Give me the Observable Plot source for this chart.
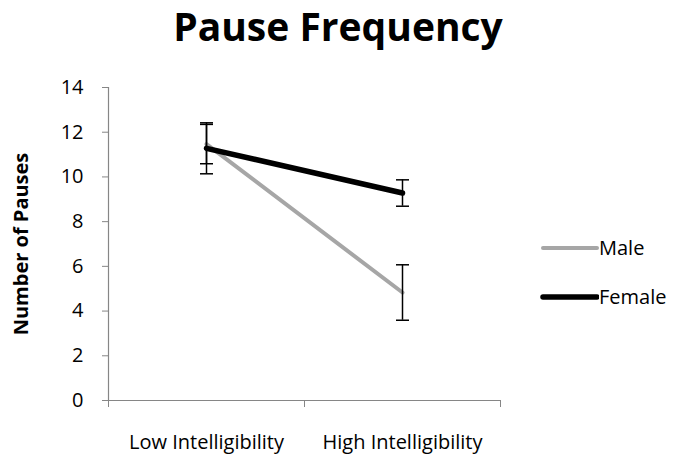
<!DOCTYPE html>
<html>
<head>
<meta charset="utf-8">
<script src="https://cdn.jsdelivr.net/npm/d3@7"></script>
<script src="https://cdn.jsdelivr.net/npm/@observablehq/plot@0.6"></script>
<style>
  html, body { margin: 0; padding: 0; background: #fff; }
  body { width: 681px; height: 459px; position: relative; overflow: hidden; font-family: "Open Sans", sans-serif; }
  #title { height: 60px; position: relative; width: 681px; font-weight: bold; font-size: 39px; }
  #title span { position: absolute; left: 338px; transform: translateX(-50%); top: 3px; white-space: nowrap; line-height: 1.2; }
  #chart { position: absolute; left: 0; top: 60px; }
  #legend { position: absolute; left: 540px; top: 234px; font-size: 20px; }
  .item { display: flex; align-items: center; height: 27px; margin-bottom: 22px; }
  .item svg { display: block; }
</style>
</head>
<body>
<div id="title"><span>Pause Frequency</span></div>
<div id="chart"></div>
<div id="legend"></div>
<script>
const categories = ["Low Intelligibility", "High Intelligibility"];
const seriesNames = ["Male", "Female"];
const maleMeans = [11.47, 4.83];
const maleErrors = [0.88, 1.24];
const femaleMeans = [11.28, 9.28];
const femaleErrors = [1.14, 0.59];
const yTicks = [0, 2, 4, 6, 8, 10, 12, 14];
const yLabel = "Number of Pauses";

const colors = {Male: "#A6A6A6", Female: "#000000"};
const widths = {Male: 4, Female: 5.5};

const rows = [];
categories.forEach((c, i) => {
  rows.push({series: "Male", cat: c, pos: i + 0.5, mean: maleMeans[i], err: maleErrors[i]});
});
categories.forEach((c, i) => {
  rows.push({series: "Female", cat: c, pos: i + 0.5, mean: femaleMeans[i], err: femaleErrors[i]});
});

const capSymbol = {
  draw(ctx) { ctx.moveTo(-6.5, 0); ctx.lineTo(6.5, 0); }
};

const male = rows.filter(d => d.series === "Male");
const female = rows.filter(d => d.series === "Female");
const boundaries = d3.range(categories.length + 1);

const chart = Plot.plot({
  width: 681,
  height: 399,
  marginLeft: 108,
  marginRight: 181,
  marginTop: 27,
  marginBottom: 59,
  style: {fontFamily: "'Open Sans', sans-serif", background: "#fff", overflow: "visible"},
  x: {domain: [0, categories.length], axis: null},
  y: {domain: [0, 14], axis: null},
  marks: [
    Plot.axisY({ticks: yTicks, tickSize: 6, tickPadding: 19, stroke: "#868686", fontSize: 20, fill: "#000", label: null, tickFormat: d => String(d)}),
    Plot.axisX({ticks: boundaries, tickSize: 7, stroke: "#868686", tickFormat: () => "", label: null}),
    Plot.ruleX([0], {y1: 0, y2: 14, stroke: "#868686", strokeWidth: 1.2}),
    Plot.ruleY([0], {stroke: "#868686", strokeWidth: 1.2}),
    Plot.axisX({ticks: categories.map((c, i) => i + 0.5), tickSize: 0, tickPadding: 34, tickFormat: v => categories[Math.round(v - 0.5)], fontSize: 20, fill: "#000", label: null}),
    Plot.line(male, {x: "pos", y: "mean", stroke: colors.Male, strokeWidth: widths.Male, strokeLinecap: "round"}),
    Plot.line(female, {x: "pos", y: "mean", stroke: colors.Female, strokeWidth: widths.Female, strokeLinecap: "round"}),
    Plot.ruleX(rows, {x: "pos", y1: d => d.mean - d.err, y2: d => d.mean + d.err, stroke: "#000", strokeWidth: 1.5}),
    Plot.dot(rows, {x: "pos", y: d => d.mean - d.err, symbol: capSymbol, stroke: "#000", strokeWidth: 1.5, r: 5}),
    Plot.dot(rows, {x: "pos", y: d => d.mean + d.err, symbol: capSymbol, stroke: "#000", strokeWidth: 1.5, r: 5}),
    Plot.text([yLabel], {x: 0, y: 7, text: d => d, rotate: -90, dx: -87, dy: 0, fontWeight: "bold", fontSize: 20, fill: "#000"})
  ]
});
document.getElementById("chart").appendChild(chart);

const legend = document.getElementById("legend");
seriesNames.forEach(name => {
  const item = document.createElement("div");
  item.className = "item";
  item.innerHTML = `<svg width="59" height="10"><line x1="3" y1="5" x2="57" y2="5" stroke="${colors[name]}" stroke-width="${widths[name]}" stroke-linecap="round"/></svg><span>${name}</span>`;
  legend.appendChild(item);
});
</script>
</body>
</html>
